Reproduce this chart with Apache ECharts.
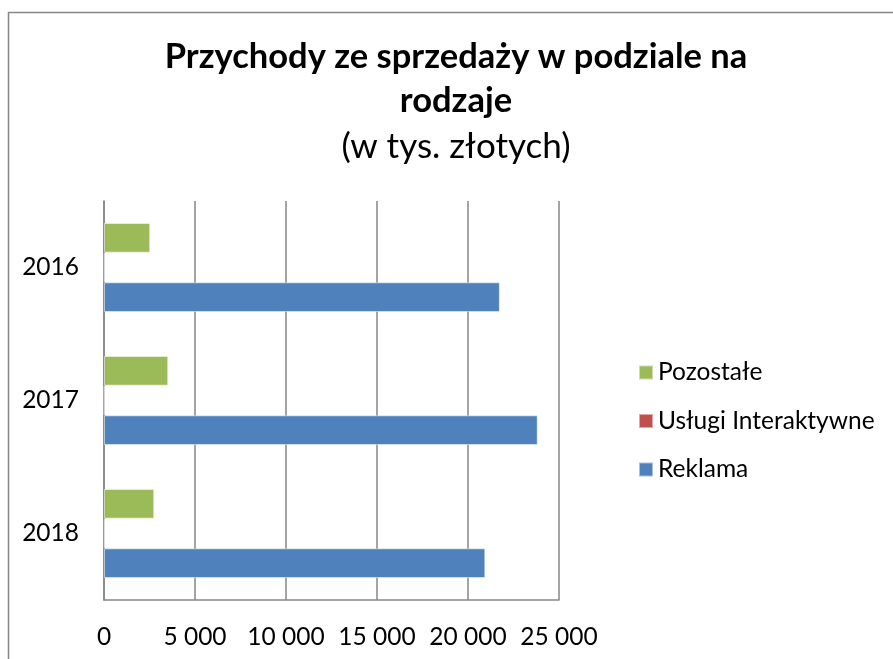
<!DOCTYPE html>
<html><head><meta charset="utf-8">
<script src="https://cdn.jsdelivr.net/npm/echarts@6/dist/echarts.min.js"></script>
<style>html,body{margin:0;padding:0;background:#fff}#c{width:893px;height:659px}</style>
</head><body><div id="c"></div>
<script>
const categories = ['2016', '2017', '2018'];
const seriesNames = ['Pozostałe', 'Usługi Interaktywne', 'Reklama'];
const pozostale = [2540, 3530, 2760];
const uslugi = [40, 30, 45];
const reklama = [21750, 23830, 20950];
const xTickValues = [0, 5000, 10000, 15000, 20000, 25000];
const xTickLabels = ['0', '5 000', '10 000', '15 000', '20 000', '25 000'];
const colors = ['#9BBB59', '#C0504D', '#4F81BD'];

const FONT = 'Lato';
const chart = echarts.init(document.getElementById('c'));
const values = [pozostale, uslugi, reklama];
chart.setOption({
  animation: false,
  textStyle: { fontFamily: FONT },
  graphic: [{
    type: 'rect', shape: { x: 8.5, y: 12.5, width: 1000, height: 1000 },
    style: { fill: 'none', stroke: '#868686', lineWidth: 1.5 }, silent: true, z: -1
  }],
  title: {
    text: 'Przychody ze sprzedaży w podziale na\nrodzaje',
    subtext: '(w tys. złotych)',
    left: 456, textAlign: 'center', top: 35, itemGap: 4, padding: 0,
    textStyle: { fontFamily: FONT, fontSize: 34.5, fontWeight: 'bold', color: '#000', lineHeight: 44 },
    subtextStyle: { fontFamily: FONT, fontSize: 35, color: '#000', lineHeight: 40 }
  },
  legend: {
    orient: 'vertical', left: 638, top: 360, itemGap: 23.5, padding: 0,
    itemWidth: 14, itemHeight: 14, icon: 'rect',
    data: seriesNames,
    textStyle: { fontFamily: FONT, fontSize: 24.5, lineHeight: 24, color: '#000', padding: [0, 0, 0, 0] }
  },
  grid: { left: 104, top: 201, right: 334, bottom: 59, containLabel: false },
  xAxis: {
    type: 'value', min: 0, max: 25000, interval: 5000,
    axisLine: { show: true, lineStyle: { color: '#868686', width: 1.5 } },
    axisTick: { show: false },
    splitLine: { show: true, lineStyle: { color: '#868686', width: 1.5 } },
    axisLabel: {
      margin: 25, fontSize: 24.5, color: '#000', fontFamily: FONT,
      formatter: v => { const i = xTickValues.indexOf(v); return i >= 0 ? xTickLabels[i] : ''; }
    }
  },
  yAxis: {
    type: 'category', data: categories, inverse: true,
    axisLine: { show: true, lineStyle: { color: '#868686', width: 1.5 } },
    axisTick: { show: false },
    axisLabel: { margin: 25, fontSize: 24.5, color: '#000', fontFamily: FONT }
  },
  series: seriesNames.map((n, i) => ({
    name: n, type: 'bar', data: values[i],
    barGap: '0%', barCategoryGap: '33%',
    itemStyle: { color: colors[i], borderColor: 'rgba(255,255,255,0.5)', borderWidth: 1 }
  }))
});
</script></body></html>
